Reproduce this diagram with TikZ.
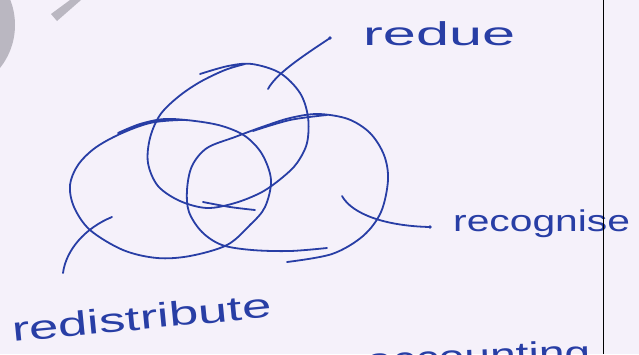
\documentclass[tikz,border=0pt]{standalone}
\usepackage{fontspec}
\newfontfamily\hand{Liberation Sans}
\definecolor{ink}{RGB}{40,62,165}
\definecolor{paper}{RGB}{245,241,250}
\definecolor{wmark}{RGB}{186,183,193}
\begin{document}
\begin{tikzpicture}[x=1pt,y=-1pt,
  pen/.style={ink, line width=1.8pt, line cap=round, line join=round},
  lbl/.style={ink, inner sep=0pt, anchor=base west},
  inkdot/.style={ink, fill=ink, circle, inner sep=0pt, minimum size=3.6pt}]
\fill[paper] (0,0) rectangle (639,354);
\useasboundingbox (0,0) rectangle (639,354);
\begin{scope}
  \clip (0,0) rectangle (639,354);
  % grey watermark pieces
  \fill[wmark] (-54,25) circle (69);
  \fill[wmark] (51,14) -- (57,21) -- (81,0) -- (70,0) -- cycle;
  % partly visible bottom line of text
  \node[lbl, font=\hand\fontsize{34}{40}\selectfont, rotate=2] (acc) at (367,372) {\scalebox{1.36}[1]{accounting}};
\end{scope}

% three hand-drawn loops
% top loop (reduce)
\draw[pen] plot[smooth, tension=0.55] coordinates {
  (200,74) (228,66) (252,64) (280,73) (300,93) (308,117) (307,143) (297,163)
  (283,177) (262,192) (235,203) (207,208) (180,201) (158,186) (148,163)
  (150,138) (160,115) (178,97) (200,82) (225,70) (245,64)};
\draw[pen] plot[smooth, tension=0.55] coordinates {(203,202) (230,207) (255,210)};
% left loop (redistribute)
\draw[pen] plot[smooth, tension=0.55] coordinates {
  (118,133) (140,124) (165,119) (195,121) (222,126) (245,136) (262,154)
  (271,180) (265,207) (250,225) (227,245) (190,256) (157,258) (123,250)
  (90,230) (74,207) (70,185) (78,165) (95,148) (120,134) (150,123) (180,120) (195,121)};
% right loop (recognise)
\draw[pen] plot[smooth, tension=0.55] coordinates {
  (327,248) (290,251) (252,250) (222,245) (202,232) (189,212) (187,190)
  (192,166) (207,148) (235,137) (262,127) (290,118) (318,114) (348,119)
  (370,133) (384,155) (388,180) (381,212) (363,236) (332,254) (287,262)};
\draw[pen] plot[smooth, tension=0.55] coordinates {(253,131) (290,120) (327,115)};

% labels
\node[lbl, font=\hand\fontsize{33}{40}\selectfont] (reduce) at (363,45) {\scalebox{1.8}[1]{redue}};
\node[lbl, font=\hand\fontsize{30}{36}\selectfont] (recog) at (453,231) {\scalebox{1.36}[1]{recognise}};
\node[lbl, font=\hand\fontsize{34}{40}\selectfont, rotate=5.5] (redis) at (13,342) {\scalebox{1.55}[1]{redistribute}};

% leaders
\coordinate (redueIn) at (268,89);
\coordinate (redueOut) at (330,38);
\coordinate (recogIn) at (342,196);
\coordinate (recogOut) at (430,227);
\coordinate (redisIn) at (112,217);
\coordinate (redisOut) at (63,273);
\draw[pen] (redueIn) .. controls (276,74) and (300,58) .. (redueOut);
\draw[pen] (recogIn) .. controls (352,214) and (385,226) .. (recogOut);
\draw[pen] (redisIn) .. controls (85,228) and (66,250) .. (redisOut);
\node[inkdot] (d1) at (redueOut) {};
\node[inkdot] (d2) at (recogOut) {};

% margin rule
\draw[black, line width=1.8pt] (603.5,0) -- (603.5,354);
\end{tikzpicture}
\end{document}
